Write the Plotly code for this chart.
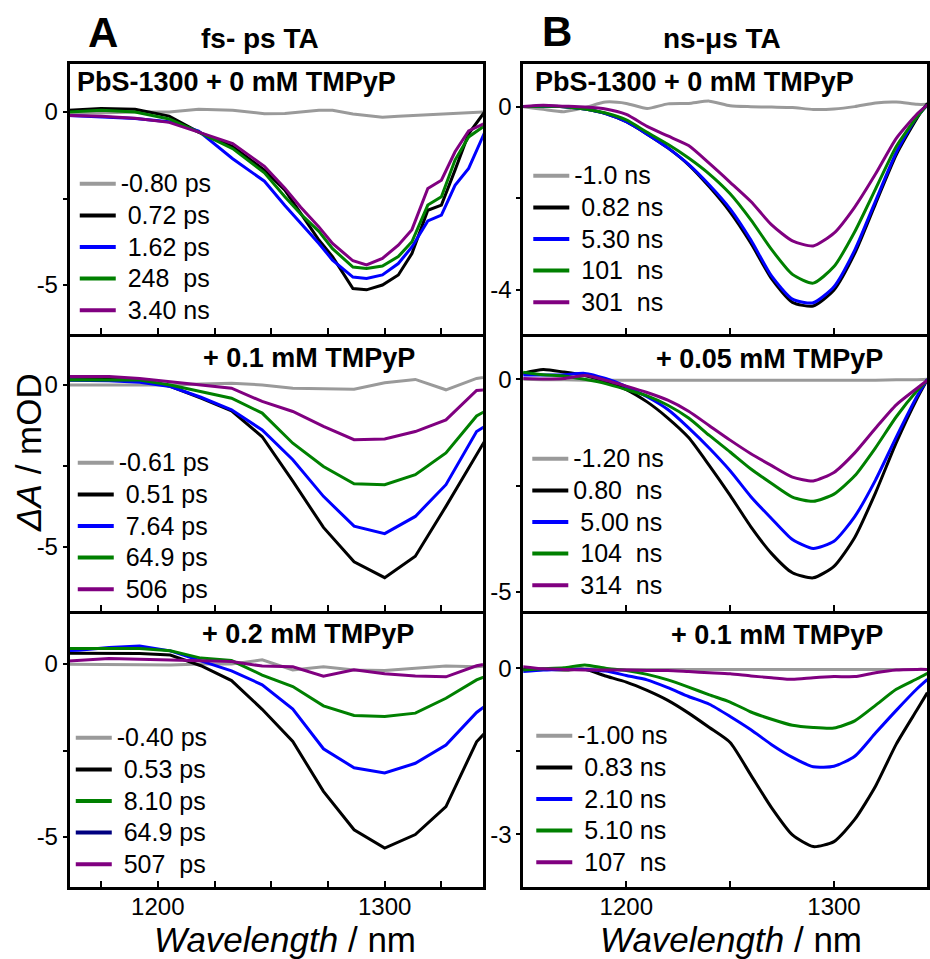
import plotly.graph_objects as go

W, H = 930, 959
FONT = "Liberation Sans, Arial, Helvetica, sans-serif"

# ---------------- data ----------------
# Panel A1: fs-ps TA, PbS-1300 + 0 mM TMPyP
wl_A1 = [1160, 1175, 1190, 1205, 1218, 1233, 1247, 1256, 1263, 1271, 1277,
         1286, 1292, 1299, 1306, 1312, 1319, 1325, 1331, 1337, 1344]
A1_neg080ps = [-0.05, -0.02, 0.0, 0.0, 0.08, 0.05, -0.05, -0.04, 0.0, 0.05, 0.05,
               -0.06, -0.1, -0.15, -0.12, -0.1, -0.08, -0.07, -0.05, -0.03, 0.0]
A1_072ps = [0.05, 0.1, 0.08, -0.12, -0.58, -1.0, -1.68, -2.26, -2.93, -3.7, -4.18,
            -5.1, -5.14, -5.0, -4.71, -4.09, -2.84, -2.69, -1.68, -0.63, 0.0]
A1_162ps = [-0.1, -0.15, -0.19, -0.28, -0.55, -1.35, -2.0, -2.7, -3.2, -3.8, -4.28,
            -4.77, -4.81, -4.71, -4.38, -3.9, -3.15, -2.98, -2.12, -1.63, -0.6]
A1_248ps = [0.0, 0.05, 0.0, -0.2, -0.58, -1.06, -1.76, -2.45, -2.95, -3.45, -3.95,
            -4.48, -4.52, -4.45, -4.18, -3.75, -2.69, -2.45, -1.39, -0.72, -0.4]
A1_340ns = [-0.1, -0.12, -0.18, -0.3, -0.58, -0.91, -1.57, -2.2, -2.75, -3.32, -3.8,
            -4.3, -4.42, -4.23, -3.85, -3.4, -2.21, -1.97, -1.15, -0.55, -0.33]

# Panel A2: + 0.1 mM TMPyP
wl_A2 = [1151.5, 1165, 1178.5, 1192, 1205.5, 1219, 1232.5, 1246, 1259.5, 1273,
         1286.5, 1300, 1313.5, 1327, 1340.5, 1354]
A2_neg061ps = [0.0, 0.0, 0.0, 0.0, 0.0, 0.03, 0.05, 0.0, -0.1, -0.12,
               -0.13, 0.07, 0.17, -0.15, 0.2, 0.35]
A2_051ps = [0.15, 0.16, 0.17, 0.15, -0.04, -0.41, -0.8, -1.6, -2.97, -4.4,
            -5.46, -5.95, -5.29, -3.75, -2.18, -0.56]
A2_764ps = [0.15, 0.15, 0.13, 0.08, -0.05, -0.38, -0.77, -1.39, -2.31, -3.44,
            -4.36, -4.59, -4.06, -3.08, -1.44, -0.85]
A2_649ps = [0.15, 0.15, 0.15, 0.15, 0.0, -0.2, -0.41, -0.87, -1.8, -2.52,
            -3.05, -3.08, -2.77, -2.1, -0.96, -0.42]
A2_506ps = [0.26, 0.26, 0.26, 0.2, 0.1, 0.0, -0.1, -0.51, -0.82, -1.28,
            -1.69, -1.67, -1.44, -1.08, -0.17, -0.1]

# Panel A3: + 0.2 mM TMPyP
wl_A3 = wl_A2
A3_neg040ps = [0.0, 0.0, 0.0, -0.02, -0.03, 0.0, 0.0, 0.12, -0.17, -0.08,
               -0.17, -0.19, -0.12, -0.06, -0.08, 0.0]
A3_053ps = [0.31, 0.31, 0.32, 0.3, 0.26, -0.05, -0.48, -1.31, -2.24, -3.68,
            -4.79, -5.32, -4.93, -4.12, -2.25, -1.3]
A3_810ps = [0.36, 0.4, 0.48, 0.52, 0.38, 0.1, -0.2, -0.6, -1.3, -2.45,
            -3.0, -3.15, -2.87, -2.34, -1.4, -0.75]
A3_649ps = [0.45, 0.45, 0.45, 0.45, 0.38, 0.17, 0.1, -0.32, -0.65, -1.21,
            -1.49, -1.52, -1.42, -0.99, -0.46, -0.1]
A3_507ps = [0.05, 0.1, 0.16, 0.14, 0.12, 0.1, 0.07, -0.06, -0.08, -0.35,
            -0.17, -0.28, -0.35, -0.37, -0.05, 0.1]

# Panel B1: ns-us TA, PbS-1300 + 0 mM TMPyP
wl_B = [1150, 1160, 1170, 1180, 1190, 1200, 1210, 1220, 1230, 1240, 1250,
        1260, 1270, 1280, 1290, 1300, 1310, 1320, 1330, 1340, 1345]
B1_neg10ns = [0.0, -0.06, -0.11, -0.02, 0.1, 0.07, -0.04, 0.06, 0.07, 0.12, 0.02,
              0.0, -0.01, -0.02, -0.06, -0.05, 0.0, 0.08, 0.1, 0.05, 0.05]
B1_082ns = [0.0, 0.01, 0.0, -0.05, -0.15, -0.33, -0.6, -0.9, -1.27, -1.75, -2.3,
            -2.98, -3.76, -4.27, -4.35, -4.0, -3.2, -2.12, -1.05, -0.25, 0.07]
B1_530ns = [0.0, 0.01, 0.0, -0.05, -0.15, -0.33, -0.6, -0.9, -1.26, -1.71, -2.23,
            -2.91, -3.7, -4.2, -4.28, -3.93, -3.13, -2.06, -1.0, -0.22, 0.04]
B1_101ns = [0.0, 0.01, 0.0, -0.05, -0.14, -0.29, -0.56, -0.82, -1.12, -1.47, -1.9,
            -2.47, -3.12, -3.66, -3.85, -3.49, -2.73, -1.8, -0.87, -0.22, 0.04]
B1_301ns = [0.0, 0.03, 0.01, -0.01, -0.05, -0.17, -0.43, -0.64, -0.85, -1.24, -1.65,
            -2.07, -2.58, -2.93, -3.04, -2.76, -2.19, -1.47, -0.69, -0.16, 0.04]

# Panel B2: + 0.05 mM TMPyP
B2_neg120ns = [0.0, -0.01, -0.01, -0.02, -0.02, -0.02, -0.02, -0.02, -0.02, -0.02, -0.02,
               -0.02, -0.02, -0.02, -0.02, -0.02, -0.02, -0.02, -0.01, -0.01, 0.0]
B2_080ns = [0.14, 0.23, 0.17, 0.09, -0.05, -0.24, -0.53, -0.91, -1.37, -2.03, -2.73,
            -3.47, -4.1, -4.55, -4.67, -4.4, -3.72, -2.67, -1.49, -0.45, 0.0]
B2_500ns = [0.1, 0.1, 0.11, 0.14, 0.02, -0.17, -0.41, -0.71, -1.14, -1.62, -2.15,
            -2.76, -3.28, -3.77, -3.98, -3.81, -3.23, -2.37, -1.36, -0.4, 0.0]
B2_104ns = [0.17, 0.11, 0.08, 0.0, -0.1, -0.24, -0.39, -0.61, -0.91, -1.32, -1.71,
            -2.11, -2.45, -2.77, -2.87, -2.7, -2.27, -1.61, -0.88, -0.27, -0.02]
B2_314ns = [0.02, 0.01, 0.02, 0.09, -0.02, -0.16, -0.31, -0.49, -0.75, -1.09, -1.43,
            -1.75, -2.03, -2.3, -2.39, -2.19, -1.73, -1.15, -0.6, -0.21, -0.02]

# Panel B3: + 0.1 mM TMPyP
B3_neg100ns = [0.0, -0.01, -0.01, -0.01, -0.02, -0.02, -0.02, -0.02, -0.02, -0.02, -0.02,
               -0.02, -0.02, -0.02, -0.02, -0.02, -0.02, -0.02, -0.02, -0.02, -0.02]
B3_083ns = [-0.02, -0.02, -0.03, -0.02, -0.14, -0.25, -0.4, -0.58, -0.81, -1.07, -1.34,
            -1.93, -2.52, -3.01, -3.22, -3.13, -2.73, -2.13, -1.37, -0.75, -0.44]
B3_210ns = [-0.06, -0.03, -0.02, -0.02, -0.05, -0.13, -0.21, -0.35, -0.51, -0.65, -0.87,
            -1.11, -1.38, -1.61, -1.78, -1.77, -1.59, -1.17, -0.76, -0.37, -0.2]
B3_510ns = [-0.03, -0.01, 0.01, 0.06, 0.0, -0.04, -0.11, -0.21, -0.34, -0.48, -0.61,
            -0.79, -0.92, -1.03, -1.07, -1.08, -0.95, -0.67, -0.38, -0.19, -0.09]
B3_107ns = [0.03, -0.01, -0.02, -0.03, -0.03, -0.03, -0.04, -0.04, -0.06, -0.08, -0.1,
            -0.14, -0.17, -0.2, -0.17, -0.15, -0.15, -0.08, -0.03, -0.02, -0.02]

# legend labels
labels_A1 = ["-0.80 ps", "\u00a00.72 ps", "\u00a01.62 ps", "\u00a0248\u00a0\u00a0ps", "\u00a03.40 ns"]
labels_A2 = ["-0.61 ps", "\u00a00.51 ps", "\u00a07.64 ps", "\u00a064.9 ps", "\u00a0506\u00a0\u00a0ps"]
labels_A3 = ["-0.40 ps", "\u00a00.53 ps", "\u00a08.10 ps", "\u00a064.9 ps", "\u00a0507\u00a0\u00a0ps"]
labels_B1 = ["-1.0 ns", "\u00a00.82 ns", "\u00a05.30 ns", "\u00a0101\u00a0\u00a0ns", "\u00a0301\u00a0\u00a0ns"]
labels_B2 = ["-1.20 ns", "0.80\u00a0\u00a0ns", "\u00a05.00 ns", "\u00a0104\u00a0\u00a0ns", "\u00a0314\u00a0\u00a0ns"]
labels_B3 = ["-1.00 ns", "\u00a00.83 ns", "\u00a02.10 ns", "\u00a05.10 ns", "\u00a0107\u00a0\u00a0ns"]

headers = ["PbS-1300 + 0 mM TMPyP", "+ 0.1 mM TMPyP", "+ 0.2 mM TMPyP",
           "PbS-1300 + 0 mM TMPyP", "+ 0.05 mM TMPyP", "+ 0.1 mM TMPyP"]

GRAY, BLACK, BLUE, GREEN, PURPLE, NAVY = "#9a9a9a", "#000000", "#0000ff", "#008000", "#800080", "#000080"
curve_colors = [GRAY, BLACK, BLUE, GREEN, PURPLE]
# panel A3: the legend shows green for 8.10 ps and navy for 64.9 ps
curve_colors_A3 = [GRAY, BLACK, BLUE, GREEN, PURPLE]
legend_colors_A3 = [GRAY, BLACK, GREEN, NAVY, PURPLE]

panels = [
    dict(wl=wl_A1, ys=[A1_neg080ps, A1_072ps, A1_162ps, A1_248ps, A1_340ns], names=labels_A1,
         cc=curve_colors, lc=curve_colors, shape="linear"),
    dict(wl=wl_A2, ys=[A2_neg061ps, A2_051ps, A2_764ps, A2_649ps, A2_506ps], names=labels_A2,
         cc=curve_colors, lc=curve_colors, shape="linear"),
    dict(wl=wl_A3, ys=[A3_neg040ps, A3_053ps, A3_810ps, A3_649ps, A3_507ps], names=labels_A3,
         cc=curve_colors_A3, lc=legend_colors_A3, shape="linear"),
    dict(wl=wl_B, ys=[B1_neg10ns, B1_082ns, B1_530ns, B1_101ns, B1_301ns], names=labels_B1,
         cc=curve_colors, lc=curve_colors, shape="spline"),
    dict(wl=wl_B, ys=[B2_neg120ns, B2_080ns, B2_500ns, B2_104ns, B2_314ns], names=labels_B2,
         cc=curve_colors, lc=curve_colors, shape="spline"),
    dict(wl=wl_B, ys=[B3_neg100ns, B3_083ns, B3_210ns, B3_510ns, B3_107ns], names=labels_B3,
         cc=curve_colors, lc=curve_colors, shape="spline"),
]

# ---------------- layout geometry (pixels) ----------------
col_px = [(70, 484.5), (525, 930)]
row_px = [(64, 334), (337, 611), (614, 887)]
x_ranges = [[1161.2, 1343.3], [1150.4, 1344.8]]
y_ranges = [[-6.416, 1.387], [-6.98, 1.48], [-6.445, 1.445],
            [-4.96, 0.93], [-5.45, 0.996], [-3.95, 0.98]]
y_ticks = [[0, -2.5, -5], [0, -2.5, -5], [0, -2.5, -5], [0, -2, -4], [0, -2.5, -5], [0, -1.5, -3]]
x_ticks = [[1175, 1200, 1225, 1250, 1275, 1300, 1325], [1200, 1250, 1300]]
legend_px = [(75, 163), (73, 442), (71, 717), (530, 155), (529, 438), (533, 715)]
header_px = [(75, 82, "left"), (418, 358, "right"), (417, 634, "right"),
             (535, 82, "left"), (888, 359, "right"), (888, 635, "right")]


def px_x(p):
    return p / W


def px_y(p):
    return 1 - p / H


fig = go.Figure()
layout = dict(width=W, height=H, margin=dict(l=0, r=0, t=0, b=0),
              paper_bgcolor="white", plot_bgcolor="white", showlegend=True,
              font=dict(family=FONT, color="black"))
annotations = []

for i, p in enumerate(panels):
    col, row = divmod(i, 3)
    n = i + 1
    xa = "x" if n == 1 else f"x{n}"
    ya = "y" if n == 1 else f"y{n}"
    lg = "legend" if n == 1 else f"legend{n}"
    for ys, c in zip(p["ys"], p["cc"]):
        fig.add_trace(go.Scatter(x=p["wl"], y=ys, mode="lines", xaxis=xa, yaxis=ya,
                                 line=dict(color=c, width=3, shape=p["shape"], smoothing=0.6),
                                 showlegend=False, hoverinfo="skip"))
    for name, c in zip(p["names"], p["lc"]):
        fig.add_trace(go.Scatter(x=[None], y=[None], mode="lines", xaxis=xa, yaxis=ya,
                                 line=dict(color=c, width=4), legend=lg, showlegend=True,
                                 name=f'<span style="font-size:25px">{name}</span>'))
    bottom = row == 2
    xt = x_ticks[col]
    xaxis = dict(domain=[px_x(col_px[col][0]), px_x(col_px[col][1])], range=x_ranges[col],
                 anchor=ya, showline=True, linewidth=3, linecolor="black",
                 mirror=(row == 0), ticks="inside", ticklen=6, tickwidth=2, tickcolor="black",
                 tickvals=xt, ticktext=[str(v) if v in (1200, 1300) else "" for v in xt],
                 showticklabels=bottom, tickfont=dict(size=24, family=FONT, color="black"),
                 ticklabelstandoff=-4,
                 showgrid=False, zeroline=False, fixedrange=True)
    yt = y_ticks[i]
    yaxis = dict(domain=[px_y(row_px[row][1]), px_y(row_px[row][0])], range=y_ranges[i],
                 anchor=xa, showline=True, linewidth=3, linecolor="black", mirror=True,
                 ticks="outside", ticklen=4, tickwidth=2, tickcolor="black",
                 tickvals=yt, ticktext=["0", "", f"{yt[2]:g}"],
                 tickfont=dict(size=24, family=FONT, color="black"),
                 showgrid=False, zeroline=False, fixedrange=True)
    layout["xaxis" if n == 1 else f"xaxis{n}"] = xaxis
    layout["yaxis" if n == 1 else f"yaxis{n}"] = yaxis
    lx, ly = legend_px[i]
    layout[lg] = dict(x=px_x(lx), y=px_y(ly), xanchor="left", yanchor="top",
                      xref="paper", yref="paper", bgcolor="rgba(0,0,0,0)", borderwidth=0,
                      font=dict(family=FONT, size=22, color="black"), traceorder="normal",
                      itemwidth=36)
    hx, hy, al = header_px[i]
    annotations.append(dict(text=f"<b>{headers[i]}</b>", x=px_x(hx), y=px_y(hy), xref="paper",
                            yref="paper", xanchor=al, yanchor="middle", showarrow=False,
                            font=dict(size=27, family=FONT, color="black")))

# column titles, panel letters, axis titles
for txt, x, y, size in [("<b>A</b>", 103, 33, 42), ("<b>B</b>", 559, 32, 42),
                        ("<b>fs- ps TA</b>", 261, 39, 28), ("<b>ns-\u03bcs TA</b>", 724, 39, 28)]:
    annotations.append(dict(text=txt, x=px_x(x), y=px_y(y), xref="paper", yref="paper",
                            xanchor="center", yanchor="middle", showarrow=False,
                            font=dict(size=size, family=FONT, color="black")))
for x in (286, 733):
    annotations.append(dict(text="<i>Wavelength</i> / nm", x=px_x(x), y=px_y(939), xref="paper",
                            yref="paper", xanchor="center", yanchor="middle", showarrow=False,
                            font=dict(size=35, family=FONT, color="black")))
annotations.append(dict(text="<i>\u0394A</i> / mOD", x=px_x(28), y=px_y(452), xref="paper",
                        yref="paper", xanchor="center", yanchor="middle", showarrow=False,
                        textangle=-90, font=dict(size=35, family=FONT, color="black")))

layout["annotations"] = annotations
fig.update_layout(**layout)
fig.write_html("out.html")
